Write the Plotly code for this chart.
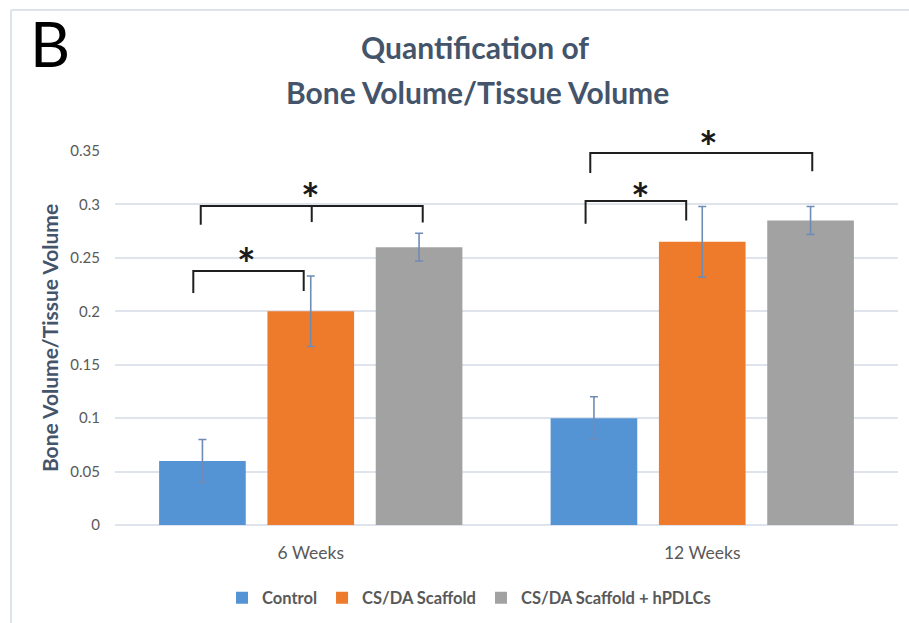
import plotly.graph_objects as go

# Data
timepoints = ["6 Weeks", "12 Weeks"]
groups = ["Control", "CS/DA Scaffold", "CS/DA Scaffold + hPDLCs"]
bv_tv = {
    "Control": [0.06, 0.10],
    "CS/DA Scaffold": [0.20, 0.265],
    "CS/DA Scaffold + hPDLCs": [0.26, 0.285],
}
bv_tv_err = {
    "Control": [0.02, 0.02],
    "CS/DA Scaffold": [0.033, 0.033],
    "CS/DA Scaffold + hPDLCs": [0.013, 0.013],
}
colors = {
    "Control": "#5494d4",
    "CS/DA Scaffold": "#ee7a2c",
    "CS/DA Scaffold + hPDLCs": "#a2a2a2",
}

# Significance brackets: (x_left, x_right, y_bar, y_left_end, y_right_end, middle_tick_end or None)
brackets = [
    (-0.30, -0.018, 0.2377, 0.217, 0.219, None),
    (-0.281, 0.286, 0.2985, 0.281, 0.283, 0.2835),
    (1 - 0.298, 1 - 0.041, 0.3032, 0.282, 0.285, None),
    (1 - 0.286, 1 + 0.281, 0.3481, 0.3294, 0.331, None),
]
# Asterisk positions (x in category units, y in data units)
stars = [(-0.164, 0.2545), (0.0, 0.3154), (1 - 0.158, 0.3154), (1 + 0.015, 0.364)]

Y_MAX = 0.35
X_MIN, X_MAX = -0.5, 1.5
FONT = "Lato"
TEXT_DARK = "#44546a"
TEXT_GRAY = "#595959"

# plot area in pixels (used to place free text in paper coordinates)
L, R, T, B = 115, 11, 151, 98
W, H = 909, 623
PW, PH = W - L - R, H - T - B


def px_to_paper(px, py):
    return (px - L) / PW, (H - B - py) / PH


fig = go.Figure()
for g in groups:
    fig.add_trace(go.Bar(
        name=g,
        x=timepoints,
        y=bv_tv[g],
        marker=dict(color=colors[g], line=dict(width=0)),
        error_y=dict(type="data", array=bv_tv_err[g], color="#6f8cb6",
                     thickness=1.6, width=4),
    ))

shapes = []
for xl, xr, yb, yle, yre, ymid in brackets:
    path = f"M {xl},{yle} L {xl},{yb} L {xr},{yb} L {xr},{yre}"
    shapes.append(dict(type="path", path=path, xref="x", yref="y",
                       line=dict(color="#1f1f1f", width=2)))
    if ymid is not None:
        xm = (xl + xr) / 2
        shapes.append(dict(type="line", x0=xm, x1=xm, y0=yb, y1=ymid,
                           xref="x", yref="y", line=dict(color="#1f1f1f", width=2)))

# Outer frame (top and left edges)
frame_color = "#dde3eb"
fx, fy = px_to_paper(11, 10)
_, fb = px_to_paper(0, 630)
shapes.append(dict(type="line", xref="paper", yref="paper",
                   x0=fx, x1=1.05, y0=fy, y1=fy,
                   line=dict(color=frame_color, width=2)))
shapes.append(dict(type="line", xref="paper", yref="paper",
                   x0=fx, x1=fx, y0=fy, y1=fb,
                   line=dict(color=frame_color, width=2)))

annotations = []
for sx, sy in stars:
    annotations.append(dict(x=(sx - X_MIN) / (X_MAX - X_MIN), y=sy / Y_MAX,
                            xref="paper", yref="paper", text="<b>*</b>",
                            xanchor="center", yanchor="middle", yshift=-10,
                            showarrow=False, font=dict(family=FONT, size=44, color="#1a1a1a")))

bx, by = px_to_paper(50, 43)
annotations.append(dict(x=bx, y=by, xref="paper", yref="paper", text="B",
                        xanchor="center", yanchor="middle", showarrow=False,
                        font=dict(family=FONT, size=62, color="#000000")))

t1x, t1y = px_to_paper(475, 47)
t2x, t2y = px_to_paper(477, 92)
annotations.append(dict(x=t1x, y=t1y, xref="paper", yref="paper",
                        text="<b>Quantification of</b>", xanchor="center", yanchor="middle",
                        showarrow=False, font=dict(family=FONT, size=30, color=TEXT_DARK)))
annotations.append(dict(x=t2x, y=t2y, xref="paper", yref="paper",
                        text="<b>Bone Volume/Tissue Volume</b>", xanchor="center", yanchor="middle",
                        showarrow=False, font=dict(family=FONT, size=30, color=TEXT_DARK)))

lgx, lgy = px_to_paper(469, 598)

fig.update_layout(
    width=W, height=H,
    margin=dict(l=L, r=R, t=T, b=B, autoexpand=False),
    paper_bgcolor="white", plot_bgcolor="white",
    barmode="group", bargap=0.17, bargroupgap=0.2,
    showlegend=True,
    legend=dict(orientation="h", x=lgx, xanchor="center", y=lgy, yanchor="middle",
                font=dict(family=FONT, size=16.5, color=TEXT_GRAY, weight="bold"),
                itemwidth=30, tracegroupgap=0),
    xaxis=dict(range=[X_MIN, X_MAX], showgrid=False, showline=False, ticks="",
               automargin=False,
               tickfont=dict(family=FONT, size=17.5, color=TEXT_GRAY), ticklabelstandoff=15),
    yaxis=dict(range=[0, Y_MAX], tickvals=[0, 0.05, 0.1, 0.15, 0.2, 0.25, 0.3, 0.35],
               ticktext=["0", "0.05", "0.1", "0.15", "0.2", "0.25", "0.3", "0.35"],
               showgrid=True, gridcolor="#dfe4ec", gridwidth=1.5,
               zeroline=True, zerolinecolor="#dfe4ec", zerolinewidth=1.5,
               showline=False, ticks="", ticklabelstandoff=14, automargin=False,
               tickfont=dict(family=FONT, size=15, color=TEXT_GRAY),
               title=dict(text="<b>Bone Volume/Tissue Volume</b>", standoff=6,
                          font=dict(family=FONT, size=21, color=TEXT_DARK))),
    shapes=shapes,
    annotations=annotations,
    font=dict(family=FONT),
)

fig.write_html("out.html")
